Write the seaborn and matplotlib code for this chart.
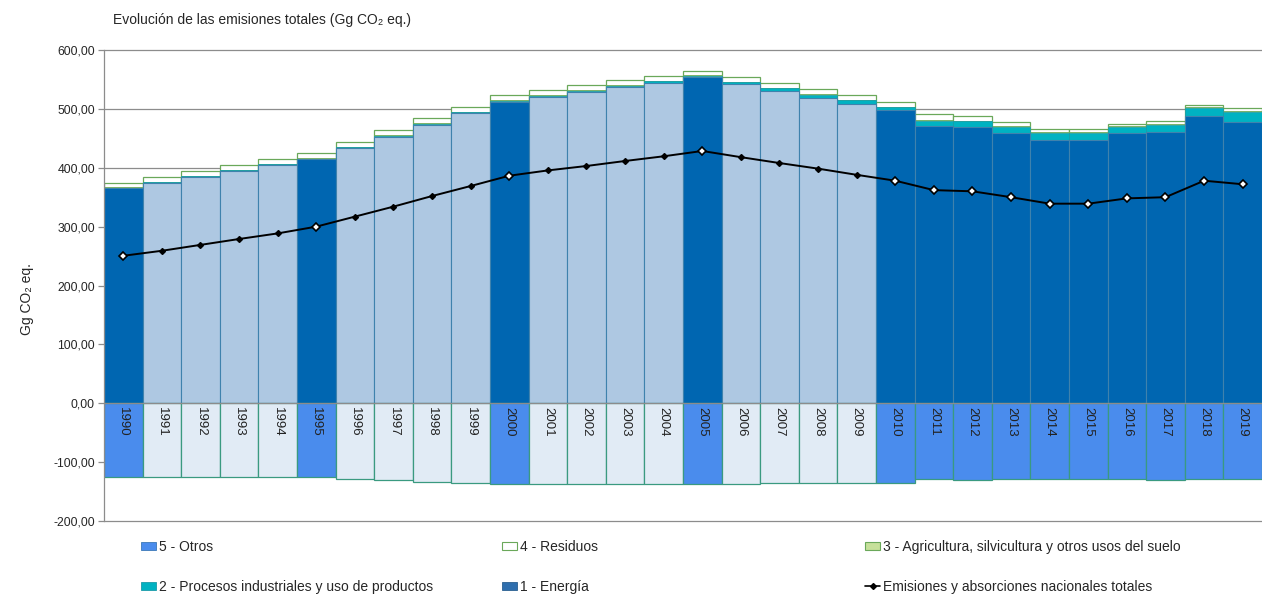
import numpy as np
import pandas as pd
import matplotlib
matplotlib.use("Agg")
import matplotlib.pyplot as plt
import matplotlib.ticker as mticker
from matplotlib.patches import Patch
from matplotlib.lines import Line2D
import seaborn as sns

# Data (Gg CO2 eq.)
years = [str(y) for y in range(1990, 2020)]
energia = [365, 374.5, 385, 395, 405, 414.5, 434, 453, 473, 492.5,
           512, 520.5, 528.5, 536.5, 544, 554, 542, 531, 519, 508.5,
           497.5, 470.5, 469.5, 459.5, 447, 448, 459.5, 461, 488, 478]
procesos = [0.8, 0.8, 0.8, 0.9, 0.9, 1.0, 1.0, 1.2, 1.2, 1.5,
            1.5, 1.8, 2.0, 2.5, 3.0, 2.5, 3.0, 4.0, 5.0, 6.0,
            5.5, 9.0, 9.5, 10.5, 12.5, 11.5, 10.5, 12.0, 14.0, 17.0]
agricultura = [1.0] * 30
residuos = [8, 8.5, 8.5, 8.5, 8.5, 8.5, 8.5, 8.5, 8.5, 9,
            8.5, 8.5, 8.5, 8.5, 8.5, 7.5, 8.0, 8.0, 8.5, 8.5,
            8.0, 10.5, 7.5, 6.0, 6.0, 6.0, 4.0, 5.0, 3.0, 5.0]
otros = [-126, -126, -126, -126, -126, -126, -128, -130, -133, -135,
         -137.5, -137.5, -137.5, -137.5, -137.5, -137.5, -137.5, -136, -136, -136,
         -135, -129, -130.5, -129, -129, -129, -129, -130.5, -129.5, -129.5]
totales = [250.5, 259, 269, 279, 288.5, 300, 317, 334, 352, 369,
           386.5, 395.5, 403, 411.5, 419.5, 428.5, 418, 408, 398.5, 388,
           378, 362, 360, 350, 339, 339, 348, 350, 378, 372]
# years with full inventory (the others are drawn in a lighter shade)
key_years = ["1990", "1995", "2000", "2005"] + [str(y) for y in range(2010, 2020)]

df = pd.DataFrame({"year": years, "energia": energia, "procesos": procesos,
                   "agricultura": agricultura, "residuos": residuos,
                   "otros": otros, "total": totales})
df["c1"] = df["energia"]
df["c2"] = df["c1"] + df["procesos"]
df["c3"] = df["c2"] + df["agricultura"]
df["c4"] = df["c3"] + df["residuos"]

DARK = "#0066b1"
LIGHT = "#aec8e2"
OTROS_DARK = "#4a8ced"
OTROS_LIGHT = "#e1ebf5"
TEAL = "#00b2c2"
AGRI = "#c6e09a"
GREEN_EDGE = "#6aa85a"
GRID = "#8c8c8c"

sns.set_theme(style="white")
plt.rcParams["font.family"] = ["Liberation Sans", "DejaVu Sans"]

fig = plt.figure(figsize=(12.62, 5.94), dpi=100)
ax = fig.add_axes([0.0824, 0.1229, 0.9176, 0.7929])

for y in range(-200, 700, 100):
    ax.axhline(y, color=GRID, lw=0.9, zorder=0, clip_on=False)

bar_kw = dict(x="year", hue="year", width=1.0, saturation=1, legend=False, ax=ax, zorder=2)

# stacked positive bars (cumulative, tallest first)
sns.barplot(data=df, y="c4", palette=["white"] * 30, edgecolor=GREEN_EDGE, linewidth=0.9, **bar_kw)
sns.barplot(data=df, y="c3", palette=[AGRI] * 30, edgecolor=GREEN_EDGE, linewidth=0.6, **bar_kw)
sns.barplot(data=df, y="c2", palette=[TEAL] * 30, edgecolor="#1a9aa8", linewidth=0.5, **bar_kw)
pal_e = {y: (DARK if y in key_years else LIGHT) for y in years}
sns.barplot(data=df, y="c1", palette=pal_e, edgecolor="#3f82ad", linewidth=0.8, **bar_kw)
pal_o = {y: (OTROS_DARK if y in key_years else OTROS_LIGHT) for y in years}
sns.barplot(data=df, y="otros", palette=pal_o, edgecolor="#3a9a80", linewidth=0.9, **bar_kw)

ax.axhline(0, color=GRID, lw=0.9, zorder=3)

# total line
xpos = np.arange(len(years))
sns.lineplot(x=xpos, y=df["total"], color="black", lw=1.4, ax=ax, zorder=4)
is_key = df["year"].isin(key_years).values
ax.plot(xpos[~is_key], df["total"][~is_key], ls="none", marker="D", ms=3,
        mfc="black", mec="black", zorder=5)
ax.plot(xpos[is_key], df["total"][is_key], ls="none", marker="D", ms=4.5,
        mfc="white", mec="black", mew=1.2, zorder=5)

# year labels inside the negative bars
for i, y in enumerate(years):
    ax.text(i, -6, y, rotation=-90, ha="center", va="top", fontsize=9.5,
            color="#222222", zorder=6)

ax.set_xlim(-0.5, len(years) - 0.5)
ax.set_ylim(-200, 600)
ax.set_xticks([])
ax.set_xlabel("")
ax.set_ylabel("")
ax.yaxis.set_major_locator(mticker.MultipleLocator(100))
ax.yaxis.set_major_formatter(mticker.FuncFormatter(lambda v, p: f"{v:.2f}".replace(".", ",")))
ax.tick_params(axis="y", left=True, length=4, width=0.9, color=GRID, labelsize=8.8, pad=2.5)
for s in ["top", "right", "bottom"]:
    ax.spines[s].set_visible(False)
ax.spines["left"].set_color(GRID)
ax.spines["left"].set_linewidth(0.9)

fig.text(0.0895, 0.966, "Evolución de las emisiones totales (Gg CO₂ eq.)",
         fontsize=10, ha="left", va="center")
fig.text(0.021, 0.497, "Gg CO₂ eq.", rotation=90, fontsize=10, ha="center", va="center")

# legend: three columns, two rows
h_otros = Patch(facecolor=OTROS_DARK, edgecolor="#3b78b8", lw=0.6)
h_proc = Patch(facecolor=TEAL, edgecolor="#1a9aa8", lw=0.6)
h_res = Patch(facecolor="white", edgecolor=GREEN_EDGE, lw=0.8)
h_ene = Patch(facecolor="#2f6fae", edgecolor="#2a5f90", lw=0.6)
h_agri = Patch(facecolor=AGRI, edgecolor=GREEN_EDGE, lw=0.8)
h_line = Line2D([0], [0], color="black", lw=1.2, marker="D", ms=3, mfc="black")

cols = [([h_otros, h_proc], ["5 - Otros", "2 - Procesos industriales y uso de productos"], 141),
        ([h_res, h_ene], ["4 - Residuos", "1 - Energía"], 502),
        ([h_agri, h_line], ["3 - Agricultura, silvicultura y otros usos del suelo",
                            "Emisiones y absorciones nacionales totales"], 865)]
for hs, ls, px in cols:
    fig.legend(hs, ls, loc="upper left", bbox_to_anchor=(px / 1262, 1 - 540 / 594),
               frameon=False, fontsize=10, handlelength=1.1, handleheight=0.55,
               handletextpad=0.2, labelspacing=1.85, borderpad=0, borderaxespad=0)

fig.savefig("out.png", dpi=100)
